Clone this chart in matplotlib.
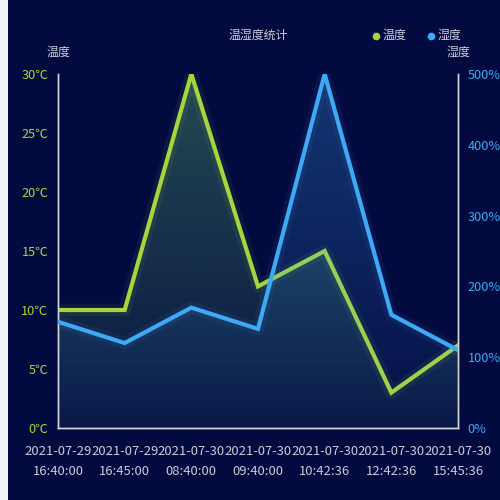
import numpy as np
import matplotlib
matplotlib.use("Agg")
import matplotlib.pyplot as plt
from matplotlib.lines import Line2D
from matplotlib.patches import Rectangle, Polygon

plt.rcParams['font.family'] = ['Noto Sans CJK SC', 'DejaVu Sans']

times = ["2021-07-29\n16:40:00", "2021-07-29\n16:45:00", "2021-07-30\n08:40:00",
         "2021-07-30\n09:40:00", "2021-07-30\n10:42:36", "2021-07-30\n12:42:36",
         "2021-07-30\n15:45:36"]
temperature = [10, 10, 30, 12, 15, 3, 7]
humidity = [150, 120, 170, 140, 500, 160, 110]

BG = "#030a40"
GREEN = "#a6d63e"
BLUE = "#3fa9f5"
TEXT = "#c9ccd8"
AXIS = "#d6d6d6"


def gradient_fill(ax, x, y, ymax, color, a_top, a_bot):
    rgb = matplotlib.colors.to_rgb(color)
    img = np.zeros((100, 1, 4))
    img[:, 0, :3] = rgb
    img[:, 0, 3] = np.linspace(a_top, a_bot, 100)
    im = ax.imshow(img, aspect="auto", extent=[x[0], x[-1], 0, ymax],
                   origin="upper", zorder=1, interpolation="bilinear")
    verts = [(x[0], 0)] + list(zip(x, y)) + [(x[-1], 0)]
    poly = Polygon(verts, closed=True, facecolor="none", edgecolor="none",
                   transform=ax.transData)
    ax.add_patch(poly)
    im.set_clip_path(poly)


fig = plt.figure(figsize=(5, 5), dpi=100, facecolor=BG)
fig.add_artist(Rectangle((0, 0), 8 / 500, 1, transform=fig.transFigure,
                         facecolor="#f1f3f9", edgecolor="none"))

ax1 = fig.add_axes([0.116, 0.144, 0.8, 0.708])
ax1.set_facecolor("none")
ax2 = ax1.twinx()
ax2.set_facecolor("none")

x = np.arange(len(times))

# temperature area + line (with a soft glow)
gradient_fill(ax1, x, temperature, 30, "#6fe07a", 0.3, 0.05)
ax1.plot(x, temperature, color=GREEN, linewidth=9, alpha=0.07, zorder=2)
ax1.plot(x, temperature, color=GREEN, linewidth=3.0, zorder=3,
         solid_joinstyle="miter")

# humidity area + line
gradient_fill(ax2, x, humidity, 500, BLUE, 0.28, 0.04)
ax2.plot(x, humidity, color=BLUE, linewidth=9, alpha=0.07, zorder=2)
ax2.plot(x, humidity, color=BLUE, linewidth=3.0, zorder=3,
         solid_joinstyle="miter")

ax1.set_xlim(x[0], x[-1])
ax1.set_ylim(0, 30)
ax2.set_ylim(0, 500)
ax1.set_yticks(range(0, 31, 5))
ax1.set_yticklabels([f"{v}℃" for v in range(0, 31, 5)])
ax2.set_yticks(range(0, 501, 100))
ax2.set_yticklabels([f"{v}%" for v in range(0, 501, 100)])
ax1.set_xticks(x)
ax1.set_xticklabels(times, linespacing=1.75)

ax1.tick_params(axis="y", length=0, pad=7, labelsize=9.2, labelcolor=GREEN)
ax2.tick_params(axis="y", length=0, pad=7, labelsize=9.2, labelcolor=BLUE)
ax1.tick_params(axis="x", length=0, pad=12, labelsize=9.4, labelcolor=TEXT)

for ax in (ax1, ax2):
    ax.spines["top"].set_visible(False)
    for side in ("left", "right", "bottom"):
        ax.spines[side].set_color(AXIS)
        ax.spines[side].set_linewidth(1)

fig.text(258 / 500, 1 - 35 / 500, "温湿度统计", color=TEXT, fontsize=8.6,
         ha="center", va="center")
fig.text(58 / 500, 1 - 52 / 500, "温度", color=TEXT, fontsize=8.6,
         ha="center", va="center")
fig.text(458 / 500, 1 - 52 / 500, "湿度", color=TEXT, fontsize=8.6,
         ha="center", va="center")

for cx, label, col in [(376, "温度", GREEN), (431, "湿度", BLUE)]:
    fig.add_artist(Line2D([cx / 500], [1 - 36 / 500], transform=fig.transFigure,
                          marker="o", markersize=4.5, color=col, linestyle="none"))
    fig.text((cx + 7) / 500, 1 - 35 / 500, label, color=TEXT, fontsize=8.6,
             ha="left", va="center")

fig.savefig("out.png", dpi=100, facecolor=fig.get_facecolor())
